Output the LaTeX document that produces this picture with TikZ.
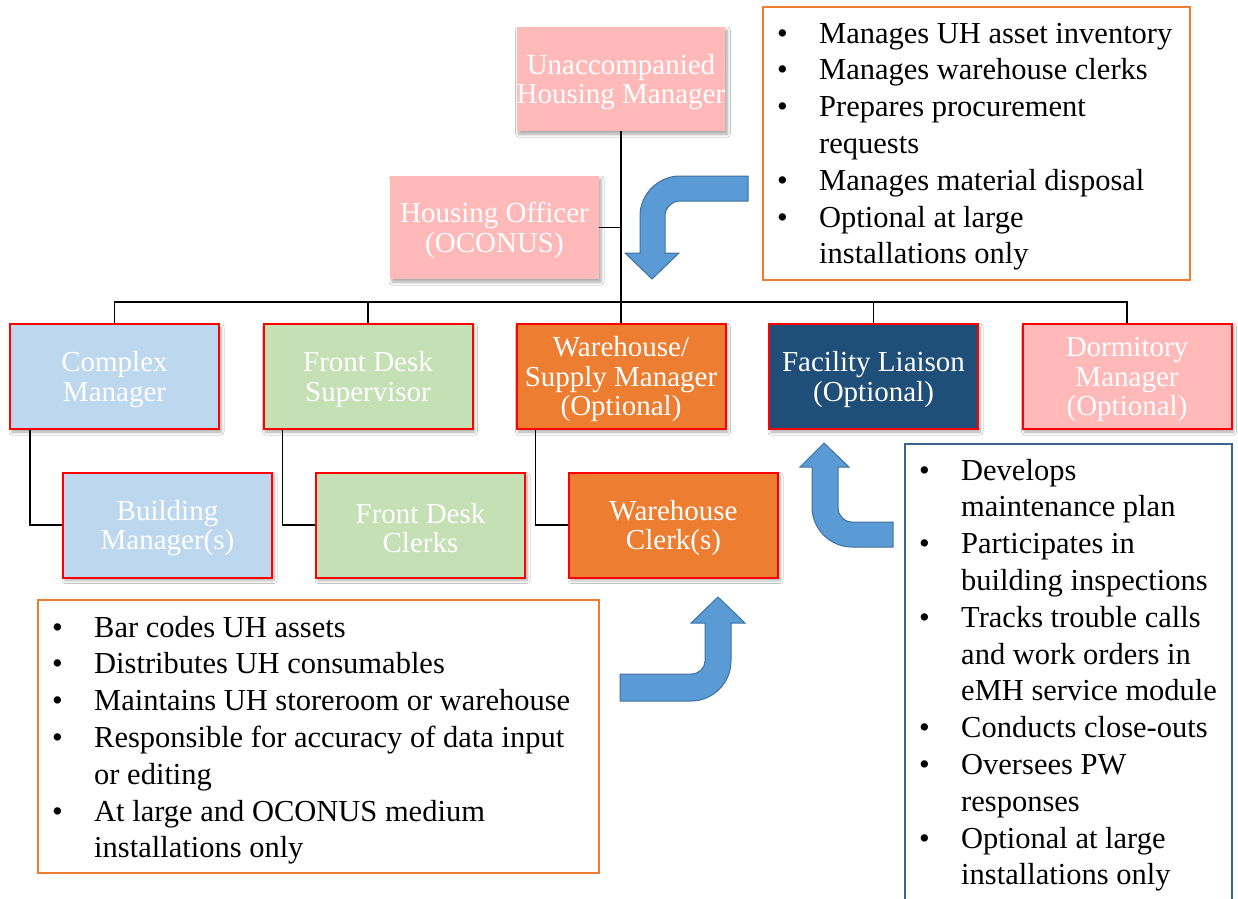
\documentclass[tikz,border=0pt]{standalone}
\usepackage{fontspec}
\setmainfont{Liberation Serif}
\usetikzlibrary{shadows.blur}
\definecolor{pinkbox}{HTML}{FFB9B9}
\definecolor{lblue}{HTML}{BDD7EE}
\definecolor{lgreen}{HTML}{C5E0B4}
\definecolor{orng}{HTML}{ED7D31}
\definecolor{dblue}{HTML}{1F4E79}
\definecolor{arrfill}{HTML}{5B9BD5}
\definecolor{arrline}{HTML}{41719C}
\definecolor{nbord}{HTML}{3B6491}
\newcommand{\bl}{\makebox[42pt][l]{\textbullet}}
\newcommand{\ct}{\hspace*{42pt}}
\newcommand{\up}{\rule{0pt}{26pt}}
\begin{document}
\begin{tikzpicture}[x=1pt,y=-1pt,
  role/.style={rectangle, minimum width=209pt, minimum height=105pt, inner sep=0pt,
    text=white, align=center, font=\fontsize{29}{29.5}\selectfont,
    blur shadow={shadow xshift=2pt, shadow yshift=-3pt, shadow opacity=35, shadow blur steps=6, shadow blur radius=3pt}},
  redline/.style={draw=red, line width=2pt},
  link/.style={draw=black, line width=1.6pt},
  notebox/.style={rectangle, line width=2pt, fill=white, inner sep=0pt},
  notetext/.style={anchor=north west, inner sep=0pt, align=left, font=\fontsize{30.5}{36.8}\selectfont},
  bentarrow/.style={fill=arrfill, draw=arrline, line width=1pt}]
\clip (0,0) rectangle (1238,898);
\fill[white] (0,0) rectangle (1238,898);

% role boxes
\node[role, fill=pinkbox, minimum width=208pt, minimum height=104pt] (uhm) at (621,79) {\up Unaccompanied\\Housing Manager};
\node[role, fill=pinkbox, minimum height=103pt] (ho) at (494.5,227.5) {\up Housing Officer\\(OCONUS)};
\node[role, redline, fill=lblue] (cm) at (114.5,376.5) {\up Complex\\Manager};
\node[role, redline, fill=lgreen] (fds) at (368,376.5) {\up Front Desk\\Supervisor};
\node[role, redline, fill=orng] (wsm) at (621,376.5) {\up Warehouse/\\Supply Manager\\(Optional)};
\node[role, redline, fill=dblue] (fl) at (873.5,376.5) {\up Facility Liaison\\(Optional)};
\node[role, redline, fill=pinkbox] (dm) at (1127,376.5) {\up Dormitory\\Manager\\(Optional)};
\node[role, redline, fill=lblue] (bm) at (167.5,525) {\up Building\\Manager(s)};
\node[role, redline, fill=lgreen] (fdc) at (420.5,525) {\up Front Desk\\Clerks};
\node[role, redline, fill=orng] (wc) at (673.5,525) {\up Warehouse\\Clerk(s)};

% connectors
\coordinate (bus) at (621,302);
\draw[link] (uhm.south) -- (uhm.south |- bus);
\draw[link] (cm.north) |- (bus) -| (dm.north);
\draw[link] (fds.north) -- (fds.north |- bus);
\draw[link] (wsm.north) -- (wsm.north |- bus);
\draw[link] (fl.north) -- (fl.north |- bus);
\draw[link] (ho.east) -- (ho.east -| uhm.south);
\draw[link] ([xshift=21pt]cm.south west) |- (bm.west);
\draw[link] ([xshift=20pt]fds.south west) |- (fdc.west);
\draw[link] ([xshift=20pt]wsm.south west) |- (wc.west);

% note boxes
\node[notebox, draw=orng, minimum width=427pt, minimum height=273pt] (tr) at (976.5,143.5) {};
\node[notetext] (trt) at ([xshift=15pt,yshift=-11.2pt]tr.north west)
 {\strut\bl Manages UH asset inventory\\
  \bl Manages warehouse clerks\\
  \bl Prepares procurement\\
  \ct requests\\
  \bl Manages material disposal\\
  \bl Optional at large\\
  \ct installations only};

\node[notebox, draw=orng, minimum width=561pt, minimum height=273pt] (ll) at (318.5,736.5) {};
\node[notetext] (llt) at ([xshift=15pt,yshift=-12.2pt]ll.north west)
 {\strut\bl Bar codes UH assets\\
  \bl Distributes UH consumables\\
  \bl Maintains UH storeroom or warehouse\\
  \bl Responsible for accuracy of data input\\
  \ct or editing\\
  \bl At large and OCONUS medium\\
  \ct installations only};

\node[notebox, draw=nbord, minimum width=327pt, minimum height=470pt] (br) at (1068.5,679) {};
\node[notetext] (brt) at ([xshift=15pt,yshift=-11.2pt]br.north west)
 {\strut\bl Develops\\
  \ct maintenance plan\\
  \bl Participates in\\
  \ct building inspections\\
  \bl Tracks trouble calls\\
  \ct and work orders in\\
  \ct eMH service module\\
  \bl Conducts close-outs\\
  \bl Oversees PW\\
  \ct responses\\
  \bl Optional at large\\
  \ct installations only};

% bent block arrows
\draw[bentarrow] (748,176) -- (680,176) .. controls (658,176) and (640,194) .. (640,216)
  -- (640,253) -- (625,253) -- (652,279) -- (679,253) -- (665,253) -- (665,216)
  .. controls (665,208) and (672,201) .. (680,201) -- (748,201) -- cycle;
\draw[bentarrow] (620,674) -- (691,674) .. controls (699,674) and (705,668) .. (705,661)
  -- (705,623) -- (691,623) -- (718,597) -- (745,623) -- (731,623) -- (731,661)
  .. controls (731,683) and (713,701) .. (691,701) -- (620,701) -- cycle;
\draw[bentarrow] (893,522) -- (852,522) .. controls (844,522) and (838,515) .. (838,508)
  -- (838,467) -- (849,467) -- (824,443) -- (800,467) -- (812,467) -- (812,507)
  .. controls (812,529) and (830,547) .. (852,547) -- (893,547) -- cycle;
\end{tikzpicture}
\end{document}
